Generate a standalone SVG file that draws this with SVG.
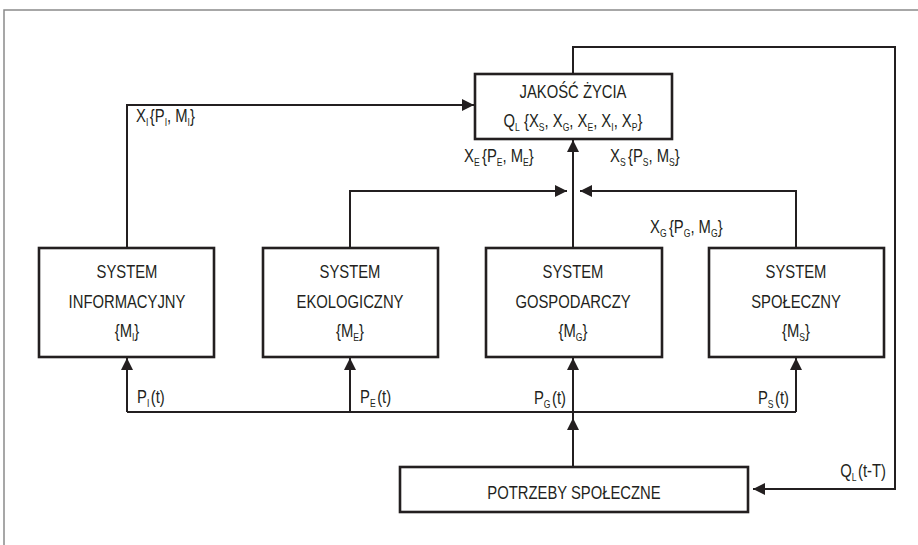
<svg xmlns="http://www.w3.org/2000/svg" width="918" height="545" viewBox="0 0 918 545">
  <defs>
    <style>
      text { font-family: "Liberation Sans", Arial, sans-serif; font-size: 19px; fill: #231f20; }
      .s { font-size: 11px; }
      .c { text-anchor: middle; }
      .e { text-anchor: end; }
      .box { fill: #ffffff; stroke: #231f20; stroke-width: 2.6; }
      .ln { fill: none; stroke: #231f20; stroke-width: 2; }
      .frame { fill: none; stroke: #8a8a8a; stroke-width: 1.5; }
    </style>
    <marker id="ah" viewBox="0 0 12 12" refX="12" refY="6" markerWidth="12" markerHeight="12" markerUnits="userSpaceOnUse" orient="auto">
      <path d="M0,0 L12,6 L0,12 Z" fill="#231f20"/>
    </marker>
  </defs>

  <rect width="918" height="545" fill="#ffffff"/>
  <!-- outer frame (right and bottom sides lie outside the canvas) -->
  <path class="frame" d="M4,545 V10 H918"/>

  <!-- all texts use a condensed face: Liberation Sans squeezed to 78 % width -->
  <g id="connectors">
    <!-- information system to quality of life -->
    <path class="ln" d="M127,248 V105 H474" marker-end="url(#ah)"/>
    <!-- ecological system -->
    <path class="ln" d="M350,248 V191 H567" marker-end="url(#ah)"/>
    <!-- economic system -->
    <path class="ln" d="M573,248 V140" marker-end="url(#ah)"/>
    <!-- social system -->
    <path class="ln" d="M796,248 V191 H580" marker-end="url(#ah)"/>
    <!-- needs bus -->
    <path class="ln" d="M127,412 H796"/>
    <path class="ln" d="M127,412 V358" marker-end="url(#ah)"/>
    <path class="ln" d="M350,412 V358" marker-end="url(#ah)"/>
    <path class="ln" d="M573,412 V358" marker-end="url(#ah)"/>
    <path class="ln" d="M796,412 V358" marker-end="url(#ah)"/>
    <!-- social needs up to the bus -->
    <path class="ln" d="M573,467 V412"/>
    <path class="ln" d="M573,440 V418" marker-end="url(#ah)"/>
    <!-- delayed feedback -->
    <path class="ln" d="M573,74 V47 H895 V489 H753" marker-end="url(#ah)"/>

    <text transform="matrix(.78 0 0 1 136 122)">X<tspan class="s" dy="4">I</tspan><tspan dy="-4" dx="2">{P</tspan><tspan class="s" dy="4">I</tspan><tspan dy="-4">, M</tspan><tspan class="s" dy="4">I</tspan><tspan dy="-4">}</tspan></text>
    <text transform="matrix(.78 0 0 1 464 162)">X<tspan class="s" dy="4">E</tspan><tspan dy="-4" dx="3">{P</tspan><tspan class="s" dy="4">E</tspan><tspan dy="-4">, M</tspan><tspan class="s" dy="4">E</tspan><tspan dy="-4">}</tspan></text>
    <text transform="matrix(.78 0 0 1 610 162)">X<tspan class="s" dy="4">S</tspan><tspan dy="-4" dx="3">{P</tspan><tspan class="s" dy="4">S</tspan><tspan dy="-4">, M</tspan><tspan class="s" dy="4">S</tspan><tspan dy="-4">}</tspan></text>
    <text transform="matrix(.78 0 0 1 650 233)">X<tspan class="s" dy="4">G</tspan><tspan dy="-4" dx="3">{P</tspan><tspan class="s" dy="4">G</tspan><tspan dy="-4">, M</tspan><tspan class="s" dy="4">G</tspan><tspan dy="-4">}</tspan></text>

    <text transform="matrix(.78 0 0 1 137 403)">P<tspan class="s" dy="4">I</tspan><tspan dy="-4" dx="2">(t)</tspan></text>
    <text transform="matrix(.78 0 0 1 360 403)">P<tspan class="s" dy="4">E</tspan><tspan dy="-4" dx="2">(t)</tspan></text>
    <text class="e" transform="matrix(.78 0 0 1 566 404)">P<tspan class="s" dy="4">G</tspan><tspan dy="-4" dx="2">(t)</tspan></text>
    <text class="e" transform="matrix(.78 0 0 1 789 404)">P<tspan class="s" dy="4">S</tspan><tspan dy="-4" dx="2">(t)</tspan></text>
    <text class="e" transform="matrix(.78 0 0 1 886 477)">Q<tspan class="s" dy="4">L</tspan><tspan dy="-4" dx="2">(t-T)</tspan></text>
  </g>

  <g id="jakosc-zycia">
    <rect class="box" x="475" y="74" width="197" height="65"/>
    <text class="c" transform="matrix(.78 0 0 1 573 98)">JAKOŚĆ ŻYCIA</text>
    <text class="c" transform="matrix(.78 0 0 1 573 127)">Q<tspan class="s" dy="4">L</tspan><tspan dy="-4"> {X</tspan><tspan class="s" dy="4">S</tspan><tspan dy="-4">, X</tspan><tspan class="s" dy="4">G</tspan><tspan dy="-4">, X</tspan><tspan class="s" dy="4">E</tspan><tspan dy="-4">, X</tspan><tspan class="s" dy="4">I</tspan><tspan dy="-4">, X</tspan><tspan class="s" dy="4">P</tspan><tspan dy="-4">}</tspan></text>
  </g>

  <g id="system-informacyjny">
    <rect class="box" x="39" y="248" width="175" height="109"/>
    <text class="c" transform="matrix(.78 0 0 1 127 278)">SYSTEM</text>
    <text class="c" transform="matrix(.78 0 0 1 127 308)">INFORMACYJNY</text>
    <text class="c" transform="matrix(.78 0 0 1 127 337)">{M<tspan class="s" dy="4">I</tspan><tspan dy="-4">}</tspan></text>
  </g>

  <g id="system-ekologiczny">
    <rect class="box" x="263" y="248" width="175" height="109"/>
    <text class="c" transform="matrix(.78 0 0 1 350 278)">SYSTEM</text>
    <text class="c" transform="matrix(.78 0 0 1 350 308)">EKOLOGICZNY</text>
    <text class="c" transform="matrix(.78 0 0 1 350 337)">{M<tspan class="s" dy="4">E</tspan><tspan dy="-4">}</tspan></text>
  </g>

  <g id="system-gospodarczy">
    <rect class="box" x="486" y="248" width="176" height="109"/>
    <text class="c" transform="matrix(.78 0 0 1 573 278)">SYSTEM</text>
    <text class="c" transform="matrix(.78 0 0 1 573 308)">GOSPODARCZY</text>
    <text class="c" transform="matrix(.78 0 0 1 573 337)">{M<tspan class="s" dy="4">G</tspan><tspan dy="-4">}</tspan></text>
  </g>

  <g id="system-spoleczny">
    <rect class="box" x="709" y="248" width="175" height="109"/>
    <text class="c" transform="matrix(.78 0 0 1 796 278)">SYSTEM</text>
    <text class="c" transform="matrix(.78 0 0 1 796 308)">SPOŁECZNY</text>
    <text class="c" transform="matrix(.78 0 0 1 796 337)">{M<tspan class="s" dy="4">S</tspan><tspan dy="-4">}</tspan></text>
  </g>

  <g id="potrzeby-spoleczne">
    <rect class="box" x="400" y="467" width="348" height="45"/>
    <text class="c" transform="matrix(.78 0 0 1 574 499)">POTRZEBY SPOŁECZNE</text>
  </g>
</svg>
